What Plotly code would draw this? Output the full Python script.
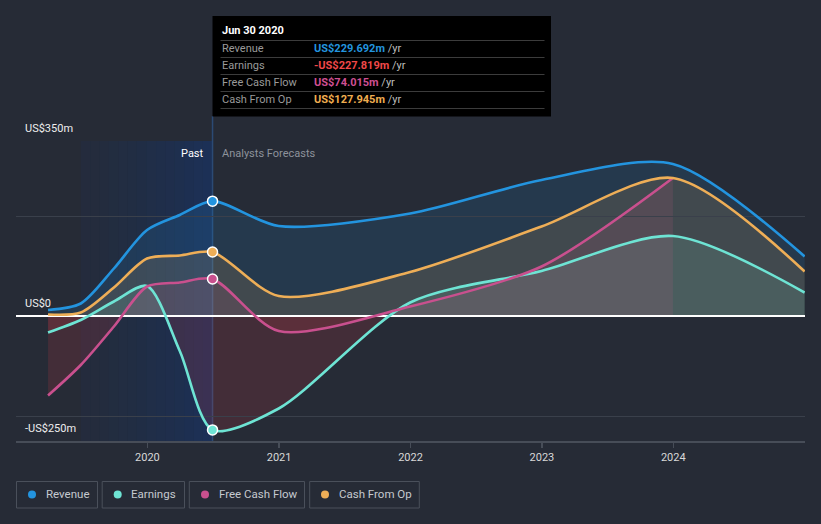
import plotly.graph_objects as go
import datetime as _dt

# ---------------- data ----------------
past_dates = ["2019-03-31", "2019-06-30", "2019-09-30", "2019-12-31", "2020-03-31", "2020-06-30"]
fcst_dates = ["2020-12-31", "2021-12-31", "2022-12-31", "2023-12-31", "2024-12-31"]

revenue_past = [12, 25, 95, 172, 202, 229.692]
revenue_fcst = [180, 205, 272, 304, 119]
earnings_past = [-33, -8, 29, 60, -70, -227.819]
earnings_fcst = [-185, 27, 90, 160, 47]
fcf_past = [-159, -98, -21, 59, 67, 74.015]
fcf_fcst = [-30, 19, 99, 276]
cfo_past = [3, 7, 57, 115, 121, 127.945]
cfo_fcst = [40, 88, 179, 276, 89]

series_names = ["Revenue", "Earnings", "Free Cash Flow", "Cash From Op"]
tooltip_date = "Jun 30 2020"
tooltip_values = ["US$229.692m", "-US$227.819m", "US$74.015m", "US$127.945m"]
year_ticks = ["2020", "2021", "2022", "2023", "2024"]
y_labels = ["US$350m", "US$0", "-US$250m"]
y_label_vals = [350, 0, -250]
grid_vals = [350, 200, -200]

# ---------------- styling ----------------
BG = "#262b36"
colors = ["#2394df", "#6ee4d4", "#c9508e", "#eeae57"]
value_colors = ["#2394df", "#f04848", "#cf4f93", "#f0ae50"]
FONT = "Roboto"
W, H = 821, 524
ML, MR, MT, MB = 16, 16, 141, 83
PW, PH = W - ML - MR, H - MT - MB
YMIN, YMAX = -250, 350
f0 = (0 - YMIN) / (YMAX - YMIN)


def px_x(x):
    return (x - ML) / PW


def px_y(y):
    return (MT + PH - y) / PH


all_series = [
    (revenue_past, revenue_fcst),
    (earnings_past, earnings_fcst),
    (fcf_past, fcf_fcst),
    (cfo_past, cfo_fcst),
]

fig = go.Figure()

# fills: positive part on y (top domain), negative part on y2 (bottom domain)
for (p, f), c in zip(all_series, colors):
    xs = past_dates + fcst_dates[: len(f)]
    ys = p + f
    r, g, b = int(c[1:3], 16), int(c[3:5], 16), int(c[5:7], 16)
    fig.add_trace(go.Scatter(x=xs, y=ys, mode="lines", line=dict(width=0, shape="spline", smoothing=0.8),
                             fill="tozeroy", fillcolor=f"rgba({r},{g},{b},0.14)",
                             yaxis="y", hoverinfo="skip", showlegend=False))
    if min(ys) < 0:
        fig.add_trace(go.Scatter(x=xs, y=ys, mode="lines", line=dict(width=0, shape="spline", smoothing=0.8),
                                 fill="tozeroy", fillcolor="rgba(215,60,70,0.17)",
                                 yaxis="y2", hoverinfo="skip", showlegend=False))

# lines
for (p, f), c, n in zip(all_series, colors, series_names):
    xs = past_dates + fcst_dates[: len(f)]
    ys = p + f
    fig.add_trace(go.Scatter(x=xs, y=ys, mode="lines", name=n,
                             line=dict(color=c, width=2.6, shape="spline", smoothing=0.8),
                             yaxis="y3", hoverinfo="skip", showlegend=False))

# hover markers at the last past point
for (p, f), c in zip(all_series, colors):
    fig.add_trace(go.Scatter(x=[past_dates[-1]], y=[p[-1]], mode="markers",
                             marker=dict(size=10, color=c, line=dict(color="white", width=1.5)),
                             yaxis="y3", hoverinfo="skip", showlegend=False, cliponaxis=False))

shapes = []
# past band gradient
d0 = _dt.date(2019, 6, 30)
d1 = _dt.date(2020, 6, 30)
nslices = 14
span = (d1 - d0).days
for i in range(nslices):
    a = d0 + _dt.timedelta(days=span * i / nslices)
    bb = d0 + _dt.timedelta(days=span * (i + 1) / nslices)
    alpha = 0.07 + 0.27 * (i / (nslices - 1)) ** 1.3
    shapes.append(dict(type="rect", xref="x", yref="paper", x0=a.isoformat(), x1=bb.isoformat(),
                       y0=0, y1=1, fillcolor=f"rgba(8,60,150,{alpha:.3f})", line=dict(width=0), layer="below"))

# hover vertical line
shapes.append(dict(type="line", xref="x", yref="paper", x0=past_dates[-1], x1=past_dates[-1],
                   y0=0, y1=px_y(116), line=dict(color="#2b4a74", width=1.5), layer="below"))

# tooltip box
shapes.append(dict(type="rect", xref="paper", yref="paper", x0=px_x(212.5), x1=px_x(551),
                   y0=px_y(116.5), y1=px_y(16), fillcolor="#000000", line=dict(width=0), layer="above"))
for yy in [40.5, 57.5, 74.5, 91.5, 108.5]:
    shapes.append(dict(type="line", xref="paper", yref="paper", x0=px_x(220.5), x1=px_x(544.5),
                       y0=px_y(yy), y1=px_y(yy), line=dict(color="#3c3c3c", width=1), layer="above"))

annotations = []
annotations.append(dict(xref="paper", yref="paper", x=px_x(220), y=px_y(31), xanchor="left", yanchor="middle",
                        text=f"<b>{tooltip_date}</b>", showarrow=False, font=dict(family=FONT, size=11, color="white")))
for i, (n, v, vc) in enumerate(zip(series_names, tooltip_values, value_colors)):
    yy = 48.5 + 17 * i
    annotations.append(dict(xref="paper", yref="paper", x=px_x(220), y=px_y(yy), xanchor="left", yanchor="middle",
                            text=n, showarrow=False, font=dict(family=FONT, size=11, color="#9a9a9a")))
    annotations.append(dict(xref="paper", yref="paper", x=px_x(311.5), y=px_y(yy), xanchor="left", yanchor="middle",
                            text=f"<span style='color:{vc}'><b>{v}</b></span> <span style='color:#bdbdbd'>/yr</span>",
                            showarrow=False, font=dict(family=FONT, size=11, color="#bdbdbd")))

# Past / Analysts Forecasts
annotations.append(dict(xref="paper", yref="paper", x=px_x(206), y=px_y(153.5), xanchor="right", yanchor="middle",
                        text="Past", showarrow=False, font=dict(family=FONT, size=11, color="#ffffff")))
annotations.append(dict(xref="paper", yref="paper", x=px_x(220), y=px_y(153.5), xanchor="left", yanchor="middle",
                        text="Analysts Forecasts", showarrow=False, font=dict(family=FONT, size=11, color="#8d929b")))

# y labels
for lab, v in zip(y_labels, y_label_vals):
    ypx = MT + PH - (v - YMIN) / (YMAX - YMIN) * PH
    annotations.append(dict(xref="paper", yref="paper", x=px_x(22.5), y=px_y(ypx - 12.5), xanchor="left",
                            yanchor="middle", text=lab, showarrow=False,
                            font=dict(family=FONT, size=11, color="#eeeeee")))

# custom legend
legend_boxes = [(16.5, 97.5), (102.2, 184.5), (189.3, 304.5), (309.7, 419.3)]
dot_x = [32, 117.7, 205, 325]
text_x = [43.5, 129.3, 216.5, 336.5]
for (bx0, bx1), dx, tx, n, c in zip(legend_boxes, dot_x, text_x, series_names, colors):
    shapes.append(dict(type="rect", xref="paper", yref="paper", x0=px_x(bx0), x1=px_x(bx1),
                       y0=px_y(508), y1=px_y(481.5), line=dict(color="#4a505b", width=1),
                       fillcolor="rgba(0,0,0,0)", layer="above"))
    shapes.append(dict(type="circle", xref="paper", yref="paper", x0=px_x(dx - 4), x1=px_x(dx + 4),
                       y0=px_y(494.5 + 4), y1=px_y(494.5 - 4), line=dict(width=0), fillcolor=c, layer="above"))
    annotations.append(dict(xref="paper", yref="paper", x=px_x(tx), y=px_y(494.5), xanchor="left",
                            yanchor="middle", text=n, showarrow=False,
                            font=dict(family=FONT, size=11.5, color="#c5c9cf")))

fig.update_layout(
    width=W, height=H,
    margin=dict(l=ML, r=MR, t=MT, b=MB, pad=0),
    paper_bgcolor=BG, plot_bgcolor="rgba(0,0,0,0)",
    showlegend=False,
    font=dict(family=FONT, color="#d0d0d0"),
    xaxis=dict(type="date", range=["2019-01-01", "2025-01-01"], anchor="y3",
               tickvals=[f"{y}-01-01" for y in year_ticks], ticktext=year_ticks,
               ticks="outside", ticklen=5, tickwidth=1.5, tickcolor="#474d58",
               showline=True, linecolor="#474d58", linewidth=1.5, showgrid=False, zeroline=False,
               tickfont=dict(family=FONT, size=11, color="#d8d8d8")),
    yaxis=dict(domain=[f0, 1], range=[0, YMAX], visible=False, anchor="x"),
    yaxis2=dict(domain=[0, f0], range=[YMIN, 0], visible=False, anchor="x"),
    yaxis3=dict(domain=[0, 1], range=[YMIN, YMAX], anchor="x", showticklabels=False,
                tickvals=grid_vals, showgrid=True, gridcolor="#3a404b", gridwidth=1,
                zeroline=True, zerolinecolor="#ffffff", zerolinewidth=1.5, showline=False, ticks=""),
    shapes=shapes,
    annotations=annotations,
)

fig.write_html(
    "out.html",
    config={"displayModeBar": False, "staticPlot": True},
    post_script="document.body.style.margin='0';document.body.style.padding='0';"
                "document.body.style.background='" + BG + "';document.body.style.overflow='hidden';",
)
